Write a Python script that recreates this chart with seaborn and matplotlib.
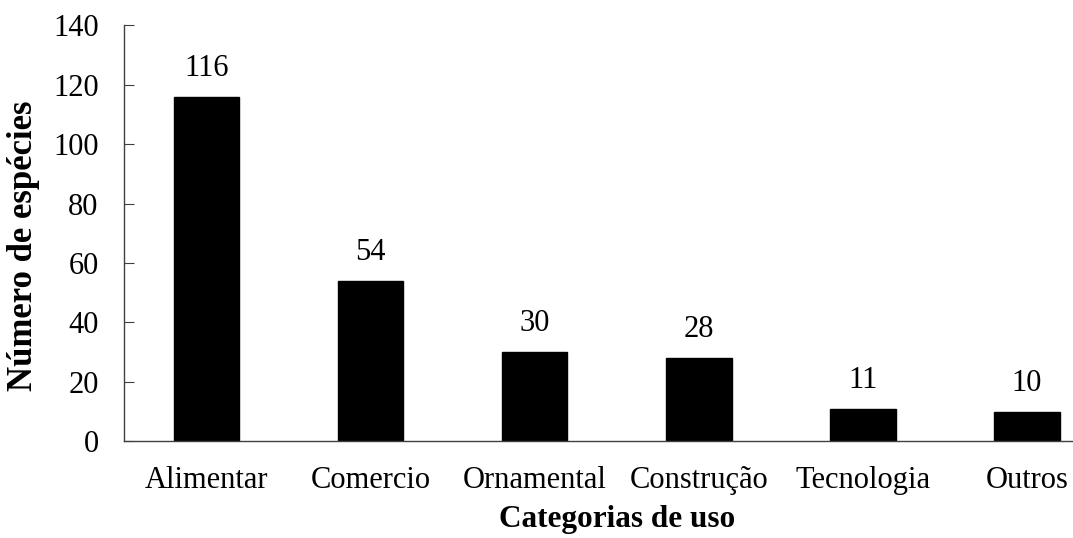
import matplotlib
matplotlib.use("Agg")
import matplotlib.pyplot as plt
import seaborn as sns
import pandas as pd

categorias = ["Alimentar", "Comercio", "Ornamental", "Construção", "Tecnologia", "Outros"]
especies = [116, 54, 30, 28, 11, 10]
y_ticks = [0, 20, 40, 60, 80, 100, 120, 140]

sns.set_theme(style="white")
plt.rcParams["font.family"] = ["Liberation Serif", "DejaVu Serif"]

df = pd.DataFrame({"categoria": categorias, "n": especies})

W, H = 1073, 538
fig = plt.figure(figsize=(W / 100, H / 100), dpi=100)
# plot area in pixels: x from 124 to 1109 (runs past the right edge), y0 at 441, y140 at 25
left_px, right_px, y0_px, ytop_px = 124.3, 1109.0, 441.3, 25.3
ax = fig.add_axes([left_px / W, (H - y0_px) / H,
                   (right_px - left_px) / W, (y0_px - ytop_px) / H])

sns.barplot(data=df, x="categoria", y="n", color="black", width=0.4,
            saturation=1, ax=ax)
for p in ax.patches:
    p.set_edgecolor("black")

ax.set_xlim(-0.5, 5.5)
ax.set_ylim(0, 140)
ax.set_yticks(y_ticks)
ax.set_yticklabels([str(t) for t in y_ticks])

ax.bar_label(ax.containers[0], labels=[str(v) for v in especies],
             padding=10, fontsize=22, color="black")

for s in ["top", "right"]:
    ax.spines[s].set_visible(False)
for s in ["left", "bottom"]:
    ax.spines[s].set_color("#404040")
    ax.spines[s].set_linewidth(1.0)

ax.tick_params(axis="y", direction="in", length=7.2, width=0.8, color="#404040",
               pad=18.5, labelsize=22, labelcolor="black", left=True)
ax.tick_params(axis="x", length=0, pad=18, labelsize=22, labelcolor="black")

ax.set_xlabel("Categorias de uso", fontsize=22.5, fontweight="bold", color="black",
              va="center")
ax.xaxis.set_label_coords(0.5, (y0_px - 520) / (y0_px - ytop_px))
ax.set_ylabel("Número de espécies", fontsize=25, fontweight="bold", color="black",
              va="center")
ax.yaxis.set_label_coords((24 - left_px) / (right_px - left_px),
                          (y0_px - 246) / (y0_px - ytop_px))

fig.savefig("out.png", dpi=100)
